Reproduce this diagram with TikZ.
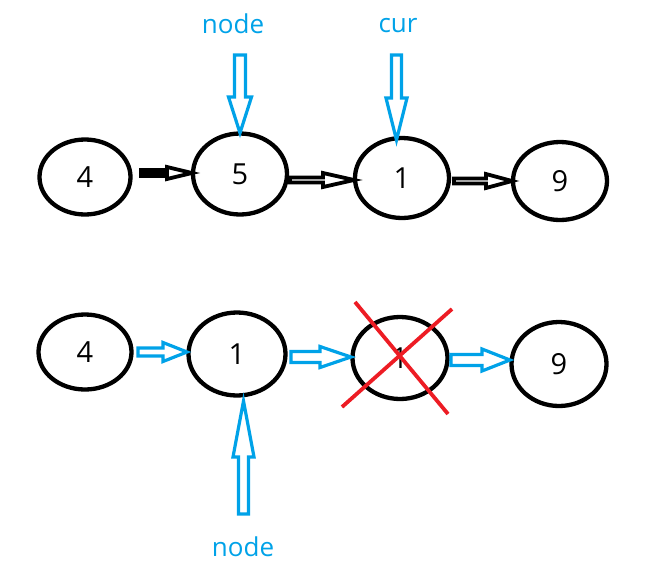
\documentclass[tikz,border=0pt]{standalone}
\usepackage{fontspec}
\setmainfont{Open Sans}
\usetikzlibrary{shapes.geometric}
\definecolor{pblue}{HTML}{00A2E8}
\definecolor{pred}{HTML}{ED1C24}
\tikzset{
  elli/.style={draw=black, line width=4.3pt, ellipse, inner sep=0pt, font=\fontsize{29}{29}\selectfont},
  lbl/.style={text=pblue, font=\fontsize{26}{26}\selectfont, inner sep=0pt},
  barrow/.style={draw=pblue, line width=3.2pt, fill=white, line join=miter},
  karrow/.style={draw=black, line width=3.8pt, fill=white, line join=miter},
  kshaft/.style={fill=black, draw=black, line width=1pt},
  cross/.style={draw=pred, line width=3.8pt}
}
% horizontal hollow arrow: style, x1, x2, y, shaft half, head half, head start
\newcommand\hharrow[7]{\draw[#1] (#2,#4-#5) -- (#7,#4-#5) -- (#7,#4-#6) -- (#3,#4) -- (#7,#4+#6) -- (#7,#4+#5) -- (#2,#4+#5) -- cycle;}
% vertical hollow arrow: style, x, y1 (tail), y2 (tip), shaft half, head half, head start
\newcommand\vvarrow[7]{\draw[#1] (#2-#5,#3) -- (#2-#5,#7) -- (#2-#6,#7) -- (#2,#4) -- (#2+#6,#7) -- (#2+#5,#7) -- (#2+#5,#3) -- cycle;}
\begin{document}
\begin{tikzpicture}[x=1pt,y=-1pt]
\useasboundingbox (0,0) rectangle (655,576);
% top row
\node[elli, minimum width=91pt, minimum height=75pt] (a4) at (85,177) {4};
\node[elli, minimum width=94pt, minimum height=81pt] (a5) at (240,174) {5};
\node[elli, minimum width=94pt, minimum height=80pt] (a1) at (402,178) {1};
\node[elli, minimum width=94pt, minimum height=78pt] (a9) at (560,181) {9};
\hharrow{karrow}{141}{192}{173}{2}{6}{167}
\fill[kshaft] (139,168.5) rectangle (166,177.5);
\hharrow{karrow}{290}{354}{180}{2.5}{7}{323}
\hharrow{karrow}{454}{512}{181}{2.5}{7}{486}
% labels top
\node[lbl] (lnode) at (233,24) {node};
\node[lbl] (lcur) at (398,26) {cur};
\vvarrow{barrow}{240}{55}{133}{5.5}{11.5}{97}
\vvarrow{barrow}{396.5}{55}{140}{5}{10.5}{98}
% bottom row
\node[elli, minimum width=93pt, minimum height=75pt] (b4) at (85,352) {4};
\node[elli, minimum width=97pt, minimum height=83pt] (b1) at (237,354) {1};
\node[elli, minimum width=95pt, minimum height=82pt] (bx) at (400,358) {1};
\node[elli, minimum width=95pt, minimum height=84pt] (b9) at (559,364) {9};
\hharrow{barrow}{138}{187}{352}{4}{9.5}{163}
\hharrow{barrow}{291}{351}{357}{5.5}{10.5}{320}
\hharrow{barrow}{451}{510}{360}{5.5}{11}{482}
\draw[cross] (355,302) -- (448,414);
\draw[cross] (452,309) -- (342,407);
\vvarrow{barrow}{243.5}{514}{401}{5}{10.5}{457}
\node[lbl] (lnode2) at (243,547) {node};
\end{tikzpicture}
\end{document}
